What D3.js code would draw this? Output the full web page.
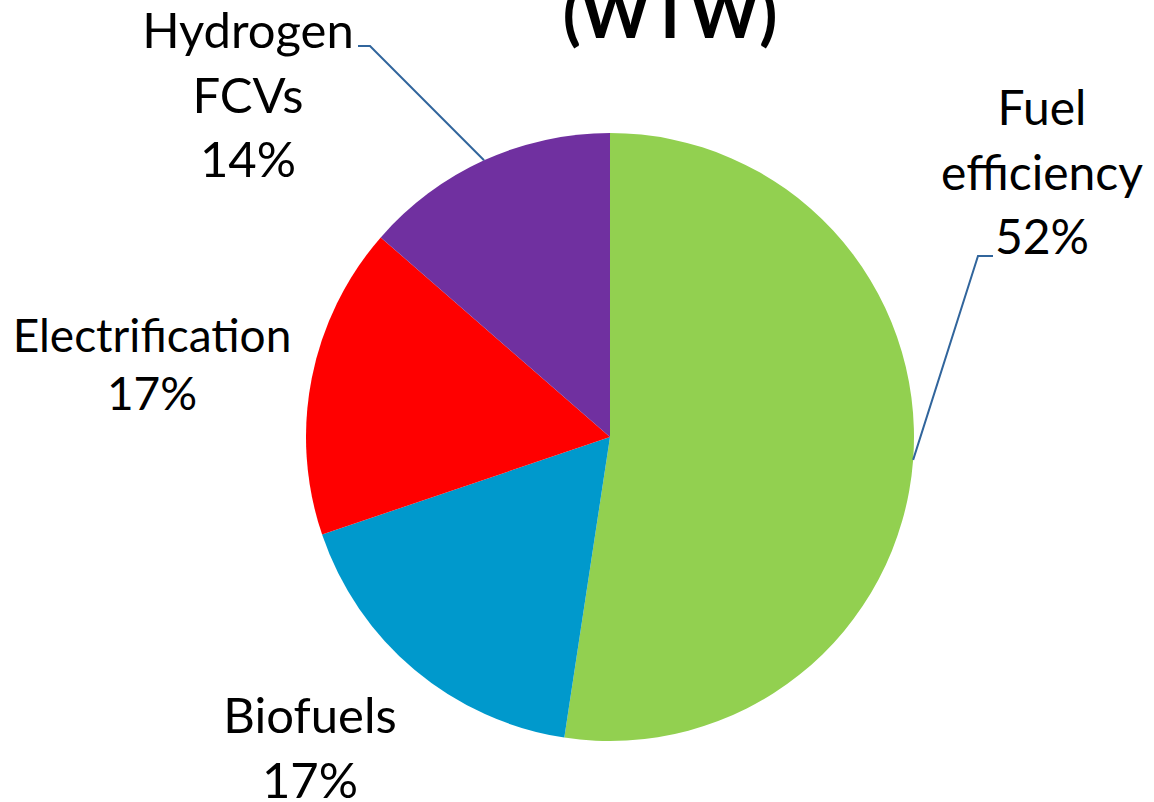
<!DOCTYPE html>
<html>
<head>
<meta charset="utf-8">
<script src="https://cdn.jsdelivr.net/npm/d3@7"></script>
<style>
  html, body { margin: 0; padding: 0; background: #fff; }
  svg text { font-family: Lato, "Open Sans", sans-serif; fill: #000; }
</style>
</head>
<body>
<div id="chart"></div>
<script>
const categories = ["Fuel efficiency", "Biofuels", "Electrification", "Hydrogen FCVs"];
const shares = [52.4, 17.4, 16.6, 13.6];
const labelLines = [["Fuel", "efficiency"], ["Biofuels"], ["Electrification"], ["Hydrogen", "FCVs"]];
const colors = ["#92d050", "#0099cc", "#ff0000", "#7030a0"];
const title = "(WTW)";

const width = 1154;
const height = 802;
const cx = 610, cy = 437, radius = 304;

// label anchor (center x, first baseline) per slice, plus leader info
const labelPos = [
  { x: 1042, y: 125, size: 48, leader: true, elbow: [993, 256], knee: [978, 256] },
  { x: 310, y: 733, size: 49, leader: false },
  { x: 152, y: 352, size: 46, leader: false, gap: 58 },
  { x: 248, y: 48, size: 49, leader: true, elbow: [358, 46], knee: [370, 46] },
];

const svg = d3
  .select("#chart")
  .append("svg")
  .attr("width", width)
  .attr("height", height);

svg
  .append("text")
  .attr("x", 670)
  .attr("y", 38)
  .attr("text-anchor", "middle")
  .style("font-size", "66px")
  .style("font-weight", "bold")
  .text(title);

const data = categories.map((c, i) => ({ name: c, value: shares[i], lines: labelLines[i], color: colors[i] }));

const pie = d3.pie().sort(null).value((d) => d.value);
const arcs = pie(data);

const arc = d3.arc().innerRadius(0).outerRadius(radius);

const g = svg.append("g").attr("transform", `translate(${cx},${cy})`);

g.selectAll("path.slice")
  .data(arcs)
  .enter()
  .append("path")
  .attr("class", "slice")
  .attr("d", arc)
  .attr("fill", (d) => d.data.color);

// leader lines
arcs.forEach((a, i) => {
  const p = labelPos[i];
  if (!p.leader) return;
  const mid = (a.startAngle + a.endAngle) / 2;
  const ex = cx + Math.sin(mid) * radius;
  const ey = cy - Math.cos(mid) * radius;
  svg
    .append("polyline")
    .attr("points", [p.elbow, p.knee, [ex, ey]].map((q) => q.join(",")).join(" "))
    .attr("fill", "none")
    .attr("stroke", "#31659c")
    .attr("stroke-width", 2);
});

// labels
arcs.forEach((a, i) => {
  const p = labelPos[i];
  const gap = p.gap || 64.5;
  const lines = a.data.lines.concat([Math.round(a.data.value) + "%"]);
  const t = svg
    .append("text")
    .attr("text-anchor", "middle")
    .style("font-size", p.size + "px");
  lines.forEach((l, j) => {
    t.append("tspan").attr("x", p.x).attr("y", p.y + j * gap).text(l);
  });
});
</script>
</body>
</html>
